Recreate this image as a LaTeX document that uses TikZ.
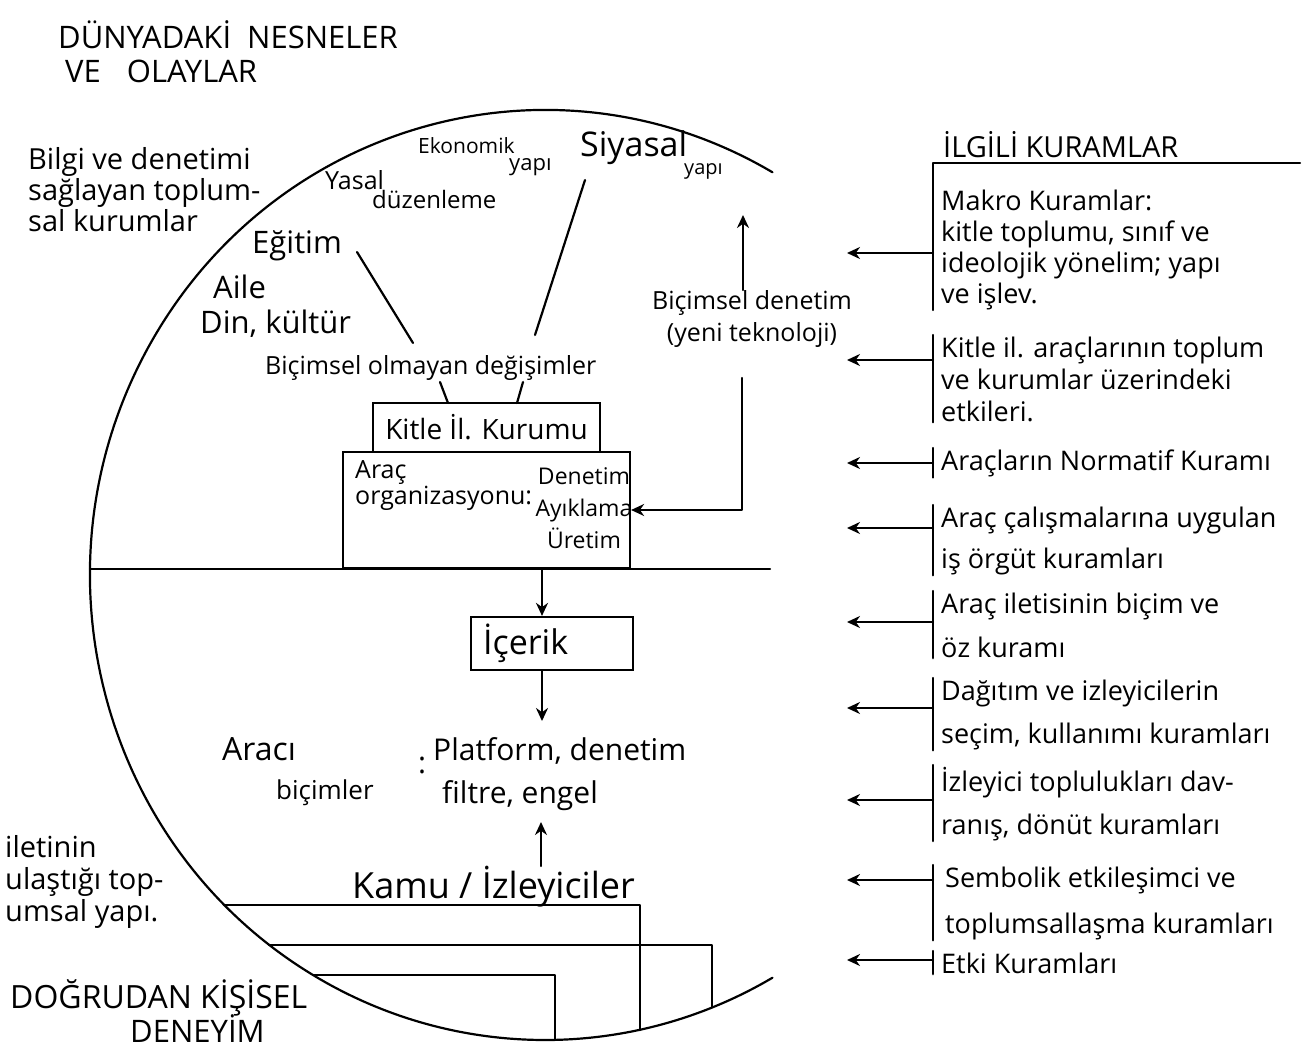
\documentclass[tikz,border=0pt]{standalone}
\usepackage{fontspec}
\setmainfont{Open Sans}
\usetikzlibrary{arrows.meta,positioning}

\begin{document}
\begin{tikzpicture}[x=1pt, y=1pt,
  lin/.style={line width=2.2pt, line cap=round, line join=round},
  arr/.style={lin, -{Stealth[length=13pt, width=12pt]}},
  txt/.style={inner sep=0pt, anchor=north west, align=left},
  box/.style={draw, line width=2.2pt, inner sep=0pt},
  kuram/.style={txt, font=\fontsize{27}{#1}\selectfont}, kuram/.default=31]
\useasboundingbox (0,0) rectangle (1308,-1048);

% dunya cemberi
\coordinate (merkez) at (545,-575);
\draw[lin] (merkez) ++(60:455pt and 465pt) arc[start angle=60, end angle=300, x radius=455pt, y radius=465pt];
\coordinate (ufukL) at (90,-569);
\coordinate (ufukR) at (770,-569);
\draw[lin] (ufukL) -- (ufukR);

% sol ust
\node[txt, font=\fontsize{31}{34}\selectfont] (baslik) at (58,-20) {DÜNYADAKİ\hspace{16pt}NESNELER\\\hspace*{7pt}VE\hspace{26pt}OLAYLAR};
\node[txt, font=\fontsize{29}{31}\selectfont] (bilgi) at (28,-147) {Bilgi ve denetimi\\sağlayan toplum-\\sal kurumlar};

% kurumlar
\node[txt, font=\fontsize{21}{24}\selectfont] (ekonomik) at (418,-137) {Ekonomik};
\node[txt, font=\fontsize{22}{26}\selectfont] (ekoyapi) at (509,-158) {yapı};
\node[txt, font=\fontsize{34}{38}\selectfont] (siyasal) at (580,-130) {Siyasal};
\node[txt, font=\fontsize{20}{24}\selectfont] (siyyapi) at (684,-163) {yapı};
\node[txt, font=\fontsize{25}{28}\selectfont] (yasal) at (325,-170) {Yasal};
\node[txt, font=\fontsize{24}{28}\selectfont] (duzen) at (372,-190) {düzenleme};
\node[txt, font=\fontsize{31}{34}\selectfont] (egitim) at (252,-230) {Eğitim};
\node[txt, font=\fontsize{31}{34}\selectfont] (aile) at (213,-275) {Aile};
\node[txt, font=\fontsize{31}{34}\selectfont] (din) at (200,-310) {Din, kültür};
\node[txt, font=\fontsize{25}{28}\selectfont] (degisim) at (265,-355) {Biçimsel olmayan değişimler};

\coordinate (e1) at (357,-252);
\coordinate (e2) at (413,-343);
\coordinate (e3) at (440,-382);
\coordinate (e4) at (448,-403);
\coordinate (s1) at (585,-180);
\coordinate (s2) at (535,-335);
\coordinate (s3) at (523,-382);
\coordinate (s4) at (517,-403);
\draw[lin] (e1) -- (e2);
\draw[lin] (e3) -- (e4);
\draw[lin] (s1) -- (s2);
\draw[lin] (s3) -- (s4);

% bicimsel denetim
\node[txt, anchor=north, align=center, font=\fontsize{25}{32}\selectfont] (bicimsel) at (752,-290) {Biçimsel denetim\\(yeni teknoloji)};
\coordinate (yukari) at (743,-215);
\coordinate (geri) at (742,-378);
\draw[arr] (yukari |- bicimsel.north) -- (yukari);

% kurum kutulari
\node[box, minimum width=227pt, minimum height=49pt, font=\fontsize{28}{32}\selectfont] (kurum) at (486.5,-427.5) {Kitle İl. Kurumu};
\node[box, minimum width=287pt, minimum height=116pt] (orgut) at (486.5,-510) {};
\node[txt, font=\fontsize{25}{26}\selectfont] (arac) at (355,-460) {Araç\\organizasyonu:};
\node[txt, anchor=north, align=center, font=\fontsize{23}{32}\selectfont] (denetim) at (584,-467) {Denetim\\Ayıklama\\Üretim};
\draw[arr] (geri) |- (orgut.east);

% icerik
\node[box, anchor=west, minimum height=53pt, text width=138pt, inner xsep=12pt, align=left, font=\fontsize{34}{38}\selectfont] (icerik) at (470,-643.5) {İçerik};
\coordinate (ayrim) at (542,-569);
\coordinate (icerikalt) at (542,-721);
\draw[arr] (ayrim) -- (ayrim |- icerik.north);
\draw[arr] (ayrim |- icerik.south) -- (icerikalt);

% araci bicimler
\node[txt, font=\fontsize{32}{36}\selectfont] (araci) at (222,-737) {Aracı};
\node[txt, font=\fontsize{26}{30}\selectfont] (bicimler) at (276,-780) {biçimler};
\node[txt, font=\fontsize{30}{34}\selectfont] (ikinokta) at (418,-757) {:};
\node[txt, font=\fontsize{30}{34}\selectfont] (platform) at (433,-737) {Platform, denetim};
\node[txt, font=\fontsize{30}{34}\selectfont] (filtre) at (442,-780) {filtre, engel};

% kamu
\node[txt, font=\fontsize{36}{40}\selectfont] (kamu) at (352,-866) {Kamu / İzleyiciler};
\coordinate (kamuok) at (541,-822);
\draw[arr] (kamuok |- kamu.north) -- (kamuok);
\draw[lin] (224,-905) -- (640,-905) -- (640,-1030);
\draw[lin] (269,-945) -- (712,-945) -- (712,-1007);
\draw[lin] (313,-975) -- (555,-975) -- (555,-1040);

% sol alt
\node[txt, font=\fontsize{29}{32}\selectfont] (iletinin) at (5,-835) {iletinin\\ulaştığı top-\\umsal yapı.};
\node[txt, font=\fontsize{32}{36}\selectfont] (dogrudan) at (10,-979) {DOĞRUDAN KİŞİSEL};
\node[txt, font=\fontsize{31}{34}\selectfont] (deneyim) at (130,-1014) {DENEYİM};

% ilgili kuramlar
\node[txt, font=\fontsize{29}{32}\selectfont] (ilgi) at (943,-131) {İLGİLİ KURAMLAR};
\coordinate (cizgiR) at (1300,-163);
\coordinate (cizgiL) at (933,-163);
\draw[lin] (cizgiR) -- (cizgiL) -- (933,-310);

\node[kuram] (makro) at (941,-190) {Makro Kuramlar:\\kitle toplumu, sınıf ve\\ideolojik yönelim; yapı\\ve işlev.};
\draw[arr] ([xshift=-8pt,yshift=-63pt]makro.north west) -- ++(-86,0);

\node[kuram=32] (kitleetki) at (941,-337) {Kitle il. araçlarının toplum\\ve kurumlar üzerindeki\\etkileri.};
\draw[lin] ([xshift=-8pt,yshift=2pt]kitleetki.north west) -- ([xshift=-8pt]kitleetki.south west);
\draw[arr] ([xshift=-8pt,yshift=-23pt]kitleetki.north west) -- ++(-86,0);

\node[kuram] (normatif) at (941,-450) {Araçların Normatif Kuramı};
\draw[lin] ([xshift=-8pt,yshift=2pt]normatif.north west) -- ([xshift=-8pt]normatif.south west);
\draw[arr] ([xshift=-8pt,yshift=-13pt]normatif.north west) -- ++(-86,0);

\node[kuram=41] (orgutkur) at (941,-507) {Araç çalışmalarına uygulan\\iş örgüt kuramları};
\draw[lin] ([xshift=-8pt,yshift=2pt]orgutkur.north west) -- ([xshift=-8pt]orgutkur.south west);
\draw[arr] ([xshift=-8pt,yshift=-21pt]orgutkur.north west) -- ++(-86,0);

\node[kuram=44] (bicimkur) at (941,-593) {Araç iletisinin biçim ve\\öz kuramı};
\draw[lin] ([xshift=-8pt,yshift=2pt]bicimkur.north west) -- ([xshift=-8pt]bicimkur.south west);
\draw[arr] ([xshift=-8pt,yshift=-29pt]bicimkur.north west) -- ++(-86,0);

\node[kuram=43] (dagitim) at (941,-680) {Dağıtım ve izleyicilerin\\seçim, kullanımı kuramları};
\draw[lin] ([xshift=-8pt,yshift=2pt]dagitim.north west) -- ([xshift=-8pt]dagitim.south west);
\draw[arr] ([xshift=-8pt,yshift=-28pt]dagitim.north west) -- ++(-86,0);

\node[kuram=43] (izleyici) at (941,-767) {İzleyici toplulukları dav-\\ranış, dönüt kuramları};
\draw[lin] ([xshift=-8pt,yshift=2pt]izleyici.north west) -- ([xshift=-8pt]izleyici.south west);
\draw[arr] ([xshift=-8pt,yshift=-33pt]izleyici.north west) -- ++(-86,0);

\node[kuram=46] (sembolik) at (945,-867) {Sembolik etkileşimci ve\\toplumsallaşma kuramları};
\draw[lin] ([xshift=-12pt,yshift=2pt]sembolik.north west) -- ([xshift=-12pt]sembolik.south west);
\draw[arr] ([xshift=-12pt,yshift=-13pt]sembolik.north west) -- ++(-86,0);

\node[kuram] (etki) at (941,-953) {Etki Kuramları};
\draw[lin] ([xshift=-8pt,yshift=2pt]etki.north west) -- ([xshift=-8pt]etki.south west);
\draw[arr] ([xshift=-8pt,yshift=-7pt]etki.north west) -- ++(-86,0);
\end{tikzpicture}
\end{document}
